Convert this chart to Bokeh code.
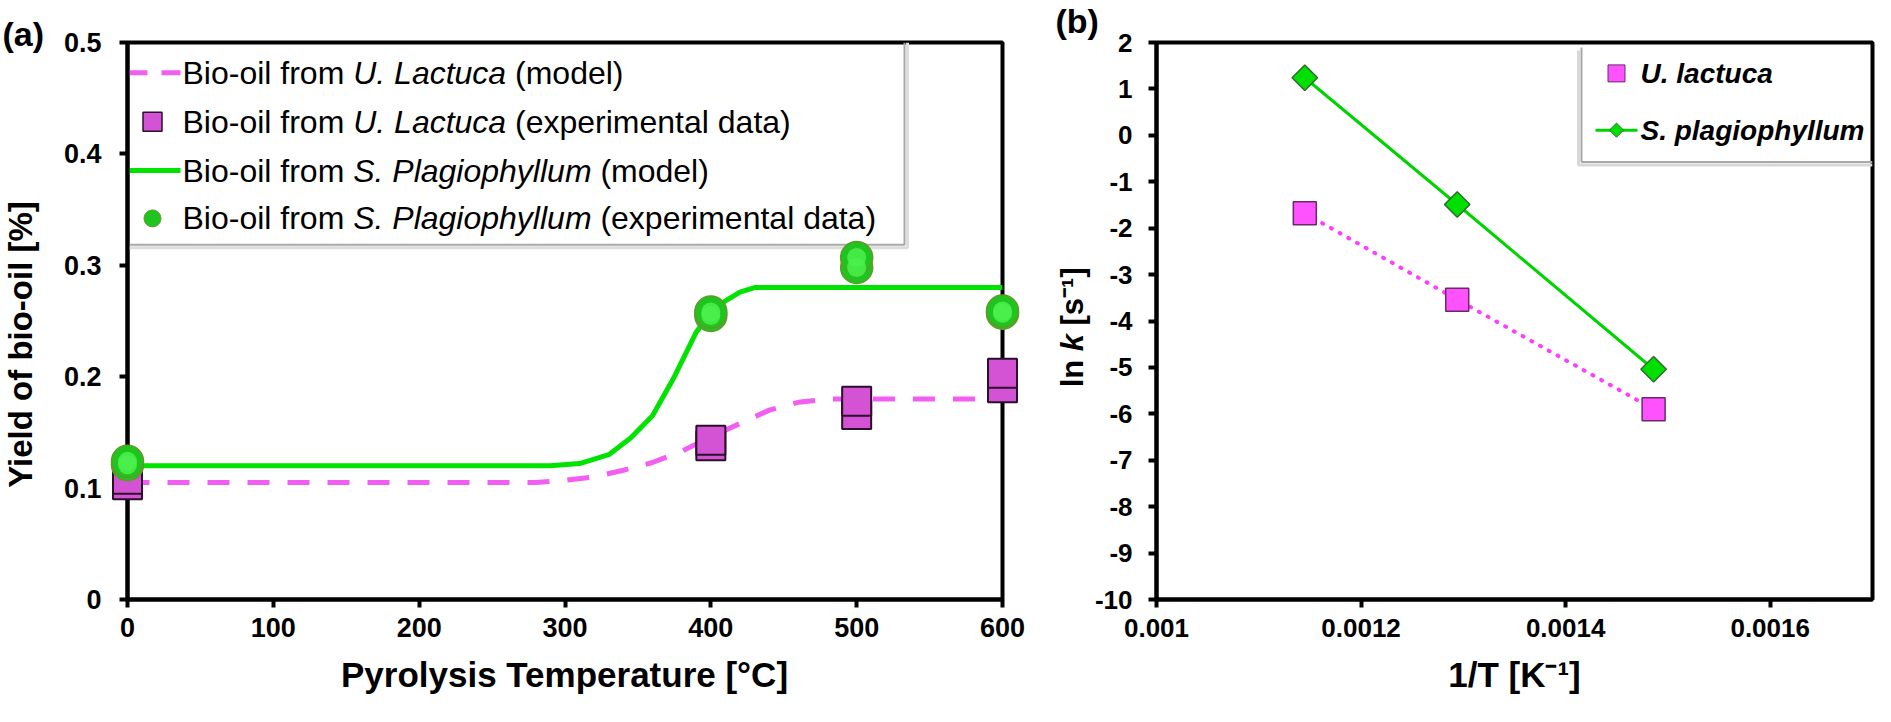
from math import pi
from bokeh.plotting import figure
from bokeh.layouts import row
from bokeh.models import FixedTicker, NumeralTickFormatter, Range1d
from bokeh.core.properties import value
from bokeh.embed import file_html
from bokeh.resources import INLINE

# ---------------- data ----------------
# (a) experimental bio-oil yields (two replicates per temperature)
temp_exp = [0, 0, 400, 400, 500, 500, 600, 600]
ulva_exp = [0.103, 0.108, 0.138, 0.143, 0.166, 0.178, 0.190, 0.203]
sarg_exp = [0.121, 0.124, 0.255, 0.258, 0.298, 0.307, 0.257, 0.259]
# (a) model curves
ulva_model_t = [0, 280, 300, 320, 340, 360, 380, 400, 420, 440, 460, 480, 600]
ulva_model_y = [0.105, 0.105, 0.107, 0.110, 0.116, 0.123, 0.133, 0.146, 0.158, 0.170, 0.177, 0.180, 0.180]
sarg_model_t = [0, 290, 310, 330, 345, 360, 375, 390, 400, 410, 420, 430, 600]
sarg_model_y = [0.120, 0.120, 0.122, 0.130, 0.145, 0.165, 0.200, 0.240, 0.257, 0.268, 0.276, 0.280, 0.280]
temp_ticks = [0, 100, 200, 300, 400, 500, 600]
yield_ticks = [0, 0.1, 0.2, 0.3, 0.4, 0.5]
# (b) Arrhenius plot
inv_T = [0.001145, 0.001294, 0.001486]
lnk_ulva = [-1.68, -3.54, -5.90]
lnk_sarg = [1.24, -1.49, -5.04]
invT_ticks = [0.001, 0.0012, 0.0014, 0.0016]
lnk_ticks = list(range(-10, 3))

FONT = "Liberation Sans"

# reference-pixel -> data helpers (for decorations only)
A_L, A_R, A_T, A_B = 135, 1010, 37, 607
def ax(px): return (px - A_L) / (A_R - A_L) * 600
def ay(py): return (A_B - py) / (A_B - A_T) * 0.5
B_L, B_R, B_T, B_B = 1164, 1880, 50, 609
def bx(px): return 0.001 + (px - B_L) / (B_R - B_L) * 0.0007
def by(py): return -10 + (B_B - py) / (B_B - B_T) * 12


def style(p, fs, xstand, ystand):
    p.outline_line_color = "black"
    p.outline_line_width = 4
    p.xgrid.visible = False
    p.ygrid.visible = False
    p.background_fill_color = "white"
    p.border_fill_color = "white"
    for a, st in ((p.xaxis[0], xstand), (p.yaxis[0], ystand)):
        a.axis_line_width = 4
        a.axis_line_color = "black"
        a.major_tick_line_width = 4
        a.major_tick_out = 8
        a.major_tick_in = 0
        a.minor_tick_line_color = None
        a.major_label_text_font = FONT
        a.major_label_text_font_style = "bold"
        a.major_label_text_font_size = fs
        a.major_label_text_color = "black"
        a.major_label_standoff = st


def lab(p, x, y, text, size, style="normal", align="left", baseline="middle", angle=0):
    p.text(x=[x], y=[y], text=[text], text_font=value(FONT), text_font_size=value(f"{size}px"),
           text_font_style=style, text_align=align, text_baseline=baseline,
           angle=angle, text_color="black", level="overlay")


# ================= panel (a) =================
p1 = figure(width=1040, height=706, x_range=Range1d(0, 600), y_range=Range1d(0, 0.5),
            output_backend="svg", toolbar_location=None,
            min_border_left=127, min_border_right=38, min_border_top=29, min_border_bottom=107)
style(p1, "27px", 10, 18)
p1.xaxis.ticker = FixedTicker(ticks=temp_ticks)
p1.yaxis.ticker = FixedTicker(ticks=yield_ticks)
p1.yaxis.formatter = NumeralTickFormatter(format="0.[0]")

MAG = "#f25ef2"
GRN = "#00e200"

# legend box (right & bottom edges with soft shadow)
p1.line([ax(915), ax(915), ax(A_L)], [ay(A_T), ay(247), ay(247)], line_color="#dddddd", line_width=3)
p1.line([ax(912), ax(912), ax(A_L)], [ay(A_T), ay(244), ay(244)], line_color="#a8a8a8", line_width=2)

p1.line(ulva_model_t, ulva_model_y, line_color=MAG, line_width=5, line_dash="22 18")
p1.line(sarg_model_t, sarg_model_y, line_color=GRN, line_width=5)

p1.scatter(temp_exp, ulva_exp, marker="square", size=29, fill_color="#d452d4",
           line_color="#2a102a", line_width=2, level="overlay")
p1.scatter(temp_exp, sarg_exp, marker="circle", size=32, fill_color="#1fc41f",
           line_color="#5f9a2a", line_width=1.5, level="overlay")
p1.scatter(temp_exp, sarg_exp, marker="circle", size=19, fill_color="#4cf04c",
           line_color=None, fill_alpha=0.85, level="overlay")

# custom legend (mixed upright / italic text)
FS_A = 32
x0 = 190
rows = [68, 118, 168, 217]
p1.line([ax(135), ax(188)], [ay(rows[0])] * 2, line_color=MAG, line_width=5, line_dash="20 14")
p1.scatter([ax(160)], [ay(rows[1])], marker="square", size=19, fill_color="#d452d4",
           line_color="#2a102a", line_width=1.5)
p1.line([ax(135), ax(188)], [ay(rows[2])] * 2, line_color=GRN, line_width=5)
p1.scatter([ax(160)], [ay(rows[3])], marker="circle", size=17, fill_color="#1fc41f",
           line_color="#5f9a2a", line_width=1)
names = ["U. Lactuca", "U. Lactuca", "S. Plagiophyllum", "S. Plagiophyllum"]
name_w = {"U. Lactuca": 4.78, "S. Plagiophyllum": 7.447}
suffix = ["(model)", "(experimental data)", "(model)", "(experimental data)"]
for yrow, nm, sf in zip(rows, names, suffix):
    lab(p1, ax(x0), ay(yrow), "Bio-oil from", FS_A)
    xn = x0 + 5.334 * FS_A
    lab(p1, ax(xn), ay(yrow), nm, FS_A, style="italic")
    xs = xn + (name_w[nm] + 0.278) * FS_A
    lab(p1, ax(xs), ay(yrow), sf, FS_A)

# titles
lab(p1, ax(572), ay(684), "Pyrolysis Temperature [°C]", 35, style="bold", align="center")
lab(p1, ax(28), ay(346), "Yield of bio-oil [%]", 33, style="bold", align="center", angle=pi / 2)
lab(p1, ax(10), ay(9), "(a)", 34, style="bold", baseline="top")

# ================= panel (b) =================
p2 = figure(width=835, height=706, x_range=Range1d(0.001, 0.0017), y_range=Range1d(-10, 2),
            output_backend="svg", toolbar_location=None,
            min_border_left=116, min_border_right=3, min_border_top=42, min_border_bottom=105)
style(p2, "26px", 11, 16)
p2.xaxis.ticker = FixedTicker(ticks=invT_ticks)
p2.xaxis.formatter = NumeralTickFormatter(format="0.[0000]")
p2.yaxis.ticker = FixedTicker(ticks=lnk_ticks)
p2.yaxis.formatter = NumeralTickFormatter(format="0")

MAG2 = "#ff3cff"
GRN2 = "#00d400"

p2.line(inv_T, lnk_ulva, line_color=MAG2, line_width=4, line_dash="1 9", line_cap="round")
p2.line(inv_T, lnk_sarg, line_color=GRN2, line_width=3)
p2.scatter(inv_T, lnk_ulva, marker="square", size=23, fill_color="#ff52ff",
           line_color="#6a2a6a", line_width=1.5, level="overlay")
p2.scatter(inv_T, lnk_sarg, marker="square", angle=pi / 4, size=18, fill_color="#00e000",
           line_color="#2f6a2f", line_width=1.5, level="overlay")

# legend box (left & bottom edges with shadow)
p2.line([bx(1586), bx(1586), bx(1880)], [by(58), by(173), by(173)], line_color="#d8d8d8", line_width=3)
p2.line([bx(1589), bx(1589), bx(1880)], [by(55), by(170), by(170)], line_color="#a8a8a8", line_width=2)
p2.scatter([bx(1624)], [by(81)], marker="square", size=17, fill_color="#ff52ff",
           line_color="#6a2a6a", line_width=1)
p2.line([bx(1603), bx(1645)], [by(138)] * 2, line_color=GRN2, line_width=3)
p2.scatter([bx(1624)], [by(138)], marker="square", angle=pi / 4, size=10, fill_color="#00e000",
           line_color="#2f6a2f", line_width=1)
lab(p2, bx(1648), by(81), "U. lactuca", 28, style="bold italic")
lab(p2, bx(1648), by(138), "S. plagiophyllum", 28, style="bold italic")

# titles
lab(p2, bx(1522), by(684), "1/T [K\u207b\u00b9]", 35, style="bold", align="center")
FS_B = 31
ys = 396
lab(p2, bx(1080), by(ys), "ln", FS_B, style="bold", angle=pi / 2)
ys -= (0.889 + 0.278) * FS_B
lab(p2, bx(1080), by(ys), "k", FS_B, style="bold italic", angle=pi / 2)
ys -= (0.556 + 0.278) * FS_B
lab(p2, bx(1080), by(ys), "[s\u207b\u00b9]", FS_B, style="bold", angle=pi / 2)
lab(p2, bx(1063), by(9), "(b)", 34, style="bold", baseline="top")

layout = row(p1, p2)
open("out.html", "w").write(file_html(layout, INLINE))
